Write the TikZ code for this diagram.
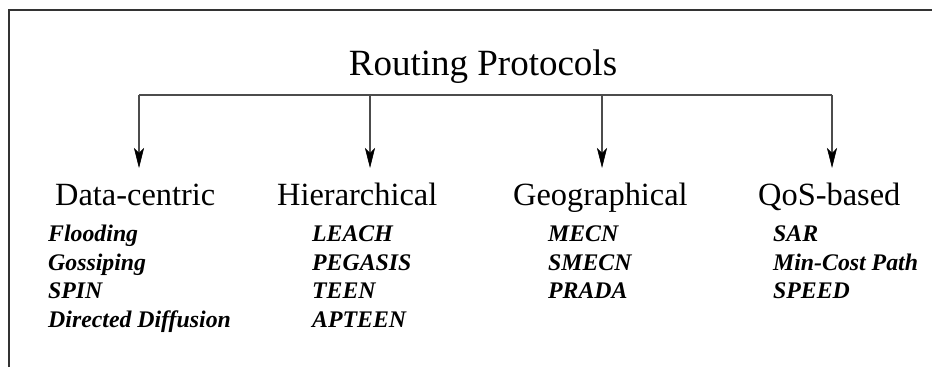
\documentclass[tikz,border=0pt]{standalone}
\usepackage{fontspec}
\setmainfont{Liberation Serif}
\usetikzlibrary{arrows.meta}
\begin{document}
\begin{tikzpicture}[x=1pt,y=-1pt,
  rootlabel/.style={anchor=base,inner sep=0pt,font=\fontsize{37}{44}\selectfont},
  catlabel/.style={anchor=base west,inner sep=0pt,font=\fontsize{32.4}{38}\selectfont},
  itemlabel/.style={anchor=base west,inner sep=0pt,font=\fontsize{23.8}{28}\selectfont\bfseries\itshape},
  frameline/.style={line width=1.6pt,draw=black!80},
  barline/.style={line width=1.3pt,draw=black!70},
  downarrow/.style={line width=1.3pt,draw=black!70,-{Stealth[length=20pt,width=10pt,inset=5pt,color=black,fill=black,line width=0.6pt]}}
]
\useasboundingbox (0,0) rectangle (932,367);

% open frame: top and left edges
\draw[frameline] (9,367) -- (9,10) -- (932,10);

% root
\node[rootlabel] (root) at (483,75) {Routing Protocols};

% branching bar and its drop points
\coordinate (j1) at (139,95);
\coordinate (j2) at (370,95);
\coordinate (j3) at (602,95);
\coordinate (j4) at (832,95);
\coordinate (t1) at (139,168);
\coordinate (t2) at (370,168);
\coordinate (t3) at (602,168);
\coordinate (t4) at (832,168);
\draw[barline] (j1) -- (j4);
\foreach \k in {1,...,4}{
  \draw[downarrow] (j\k) -- (t\k);
}

% categories
\node[catlabel] (dc)  at (55,205)  {Data-centric};
\node[catlabel] (hi)  at (277,205) {Hierarchical};
\node[catlabel] (geo) at (513,205) {Geographical};
\node[catlabel] (qos) at (758,205) {QoS-based};

% protocols per category
\node[itemlabel] (dc1) at (48,241) {Flooding};
\node[itemlabel] (dc2) at (48,270) {Gossiping};
\node[itemlabel] (dc3) at (48,298) {SPIN};
\node[itemlabel] (dc4) at (48,327) {Directed Diffusion};

\node[itemlabel] (hi1) at (312,241) {LEACH};
\node[itemlabel] (hi2) at (312,270) {PEGASIS};
\node[itemlabel] (hi3) at (312,298) {TEEN};
\node[itemlabel] (hi4) at (312,327) {APTEEN};

\node[itemlabel] (geo1) at (548,241) {MECN};
\node[itemlabel] (geo2) at (548,270) {SMECN};
\node[itemlabel] (geo3) at (548,298) {PRADA};

\node[itemlabel] (qos1) at (773,241) {SAR};
\node[itemlabel] (qos2) at (773,270) {Min-Cost Path};
\node[itemlabel] (qos3) at (773,298) {SPEED};
\end{tikzpicture}
\end{document}
